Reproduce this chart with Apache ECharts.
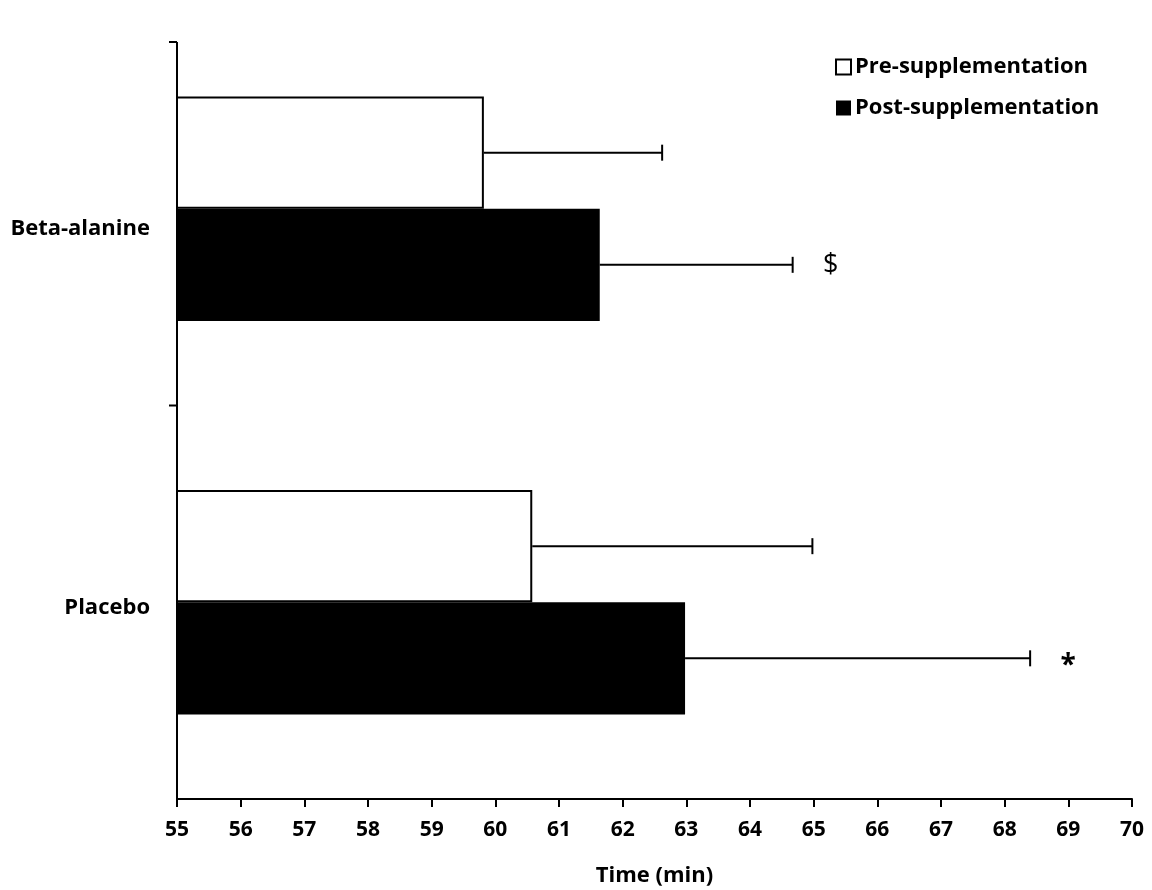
<!DOCTYPE html>
<html>
<head>
<meta charset="utf-8">
<script src="https://cdn.jsdelivr.net/npm/echarts@6/dist/echarts.min.js"></script>
<style>
html,body{margin:0;padding:0;background:#fff;}
#main{width:1152px;height:890px;}
</style>
</head>
<body>
<div id="main"></div>
<script>
// ---- data ----
var categories = ['Beta-alanine', 'Placebo'];
var preValues = [59.82, 60.58];
var postValues = [61.64, 62.98];
var preErrors = [2.80, 4.40];
var postErrors = [3.03, 5.42];
var postMarks = ['$', '*'];
var xTicks = {min: 55, max: 70, interval: 1};
var seriesNames = ['Pre-supplementation', 'Post-supplementation'];
var axisTitle = 'Time (min)';

// ---- layout constants ----
var GRID = {left: 177, right: 20, top: 12, bottom: 91, outerBoundsMode: 'none', containLabel: false};
var CAT_GAP = 0.43;
var FONT = '"Open Sans", Lato, sans-serif';

var chart = echarts.init(document.getElementById('main'), null, {renderer: 'canvas'});

function errData(vals, errs, marks) {
  return vals.map(function (v, i) {
    return [v, i, errs[i], marks ? marks[i] : ''];
  });
}

function makeErrRender(sign) {
  return function (params, api) {
    var v = api.value(0), ci = api.value(1), e = api.value(2);
    var mark = api.value(3);
    var start = api.coord([v, ci]);
    var end = api.coord([v + e, ci]);
    var band = api.size([0, 1])[1];
    var barW = band * (1 - CAT_GAP) / 2;
    var y = start[1] + sign * barW / 2;
    var cap = 8;
    var children = [
      {type: 'line', shape: {x1: start[0], y1: y, x2: end[0], y2: y}, style: {stroke: '#000', lineWidth: 2}},
      {type: 'line', shape: {x1: end[0], y1: y - cap, x2: end[0], y2: y + cap}, style: {stroke: '#000', lineWidth: 2}}
    ];
    if (mark) {
      var isStar = mark === '*';
      children.push({type: 'text', style: {
        text: mark, x: end[0] + 38, y: y + (isStar ? 8 : 0),
        align: 'center', verticalAlign: 'middle',
        font: (isStar ? 'bold 28px ' : '27px ') + FONT, fill: '#000'
      }});
    }
    return {type: 'group', children: children};
  };
}

var option = {
  backgroundColor: '#fff',
  animation: false,
  grid: GRID,
  legend: {
    orient: 'vertical',
    left: 835, top: 56,
    padding: 0,
    itemWidth: 15, itemHeight: 15,
    itemGap: 19,
    icon: 'rect',
    data: seriesNames,
    textStyle: {fontFamily: FONT, fontWeight: 'bold', fontSize: 22, color: '#000', lineHeight: 22, padding: [0,0,0,-1]},
  },
  xAxis: {
    type: 'value',
    min: xTicks.min, max: xTicks.max, interval: xTicks.interval,
    name: axisTitle, nameLocation: 'middle', nameGap: 66,
    nameTextStyle: {fontFamily: FONT, fontWeight: 'bold', fontSize: 22, color: '#000'},
    axisLine: {show: true, lineStyle: {color: '#000', width: 2}},
    axisTick: {show: true, length: 8, lineStyle: {color: '#000', width: 2}},
    axisLabel: {fontFamily: FONT, fontWeight: 'bold', fontSize: 21, color: '#000', margin: 21},
    splitLine: {show: false}
  },
  yAxis: {
    type: 'category',
    data: categories,
    inverse: true,
    axisLine: {show: false},
    axisTick: {show: false},
    axisLabel: {
      margin: 27,
      formatter: function (v, i) { return '{c' + i + '|' + v + '}'; },
      rich: {
        c0: {fontFamily: FONT, fontWeight: 'bold', fontSize: 22, color: '#000', padding: [40, 0, 0, 0]},
        c1: {fontFamily: FONT, fontWeight: 'bold', fontSize: 22, color: '#000', padding: [10, 0, 0, 0]}
      }
    },
    splitLine: {show: false}
  },
  series: [
    {
      name: seriesNames[0], type: 'bar',
      data: preValues,
      barGap: '0%', barCategoryGap: (CAT_GAP * 100) + '%',
      itemStyle: {color: '#fff', borderColor: '#000', borderWidth: 2},
      z: 2
    },
    {
      name: seriesNames[1], type: 'bar',
      data: postValues,
      barGap: '0%', barCategoryGap: (CAT_GAP * 100) + '%',
      itemStyle: {color: '#000', borderColor: '#000', borderWidth: 0},
      z: 2
    },
    {
      type: 'custom', name: 'preErr',
      renderItem: makeErrRender(-1),
      encode: {x: 0, y: 1},
      data: errData(preValues, preErrors, null),
      z: 3, silent: true
    },
    {
      type: 'custom', name: 'postErr',
      renderItem: makeErrRender(1),
      encode: {x: 0, y: 1},
      data: errData(postValues, postErrors, postMarks),
      z: 3, silent: true
    }
  ]
};
chart.setOption(option);

// y-axis line and its ticks (Excel-style: line starts slightly below grid top)
var x0 = chart.convertToPixel({xAxisIndex: 0}, xTicks.min);
var yBottom = chart.convertToPixel({yAxisIndex: 0}, categories[categories.length - 1]);
var yMidPix = chart.convertToPixel({yAxisIndex: 0}, categories[0]);
var bandH = yBottom - yMidPix;
yBottom = yBottom + bandH / 2;
var yMid = yMidPix + bandH / 2;
var yTop = 42;
chart.setOption({
  graphic: [
    {type: 'line', shape: {x1: x0, y1: yTop, x2: x0, y2: yBottom}, style: {stroke: '#000', lineWidth: 2}, z: 10},
    {type: 'line', shape: {x1: x0 - 8, y1: yTop, x2: x0, y2: yTop}, style: {stroke: '#000', lineWidth: 2}, z: 10},
    {type: 'line', shape: {x1: x0 - 8, y1: yMid, x2: x0, y2: yMid}, style: {stroke: '#000', lineWidth: 2}, z: 10}
  ]
});
</script>
</body>
</html>
